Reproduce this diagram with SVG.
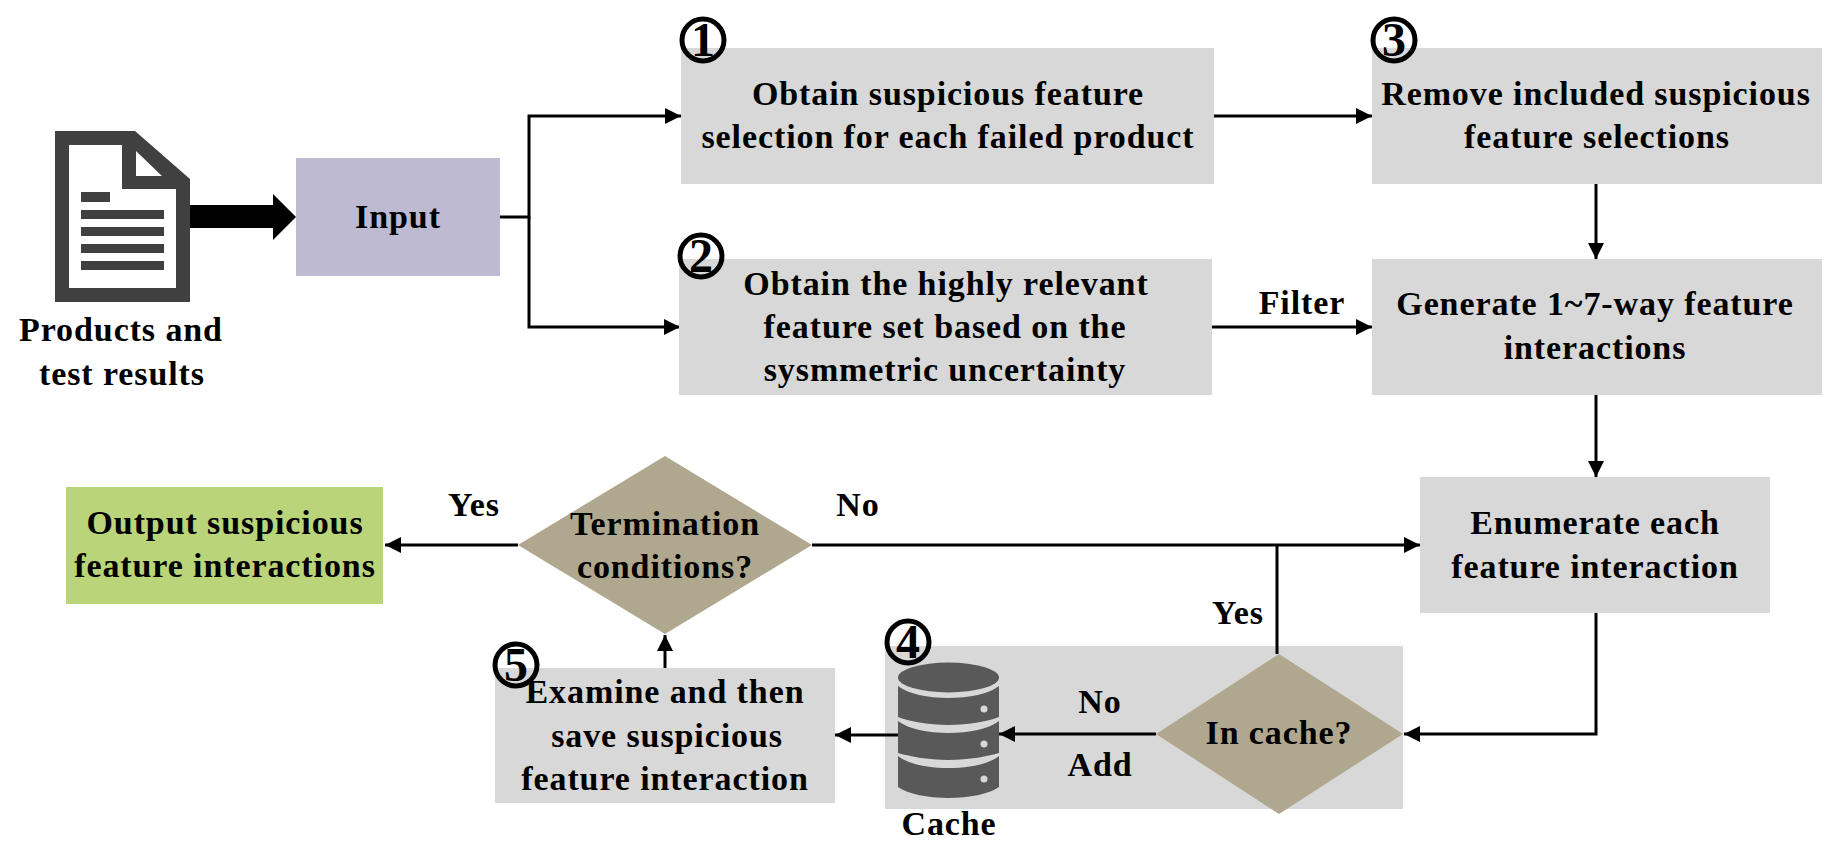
<svg xmlns="http://www.w3.org/2000/svg" width="1838" height="861" viewBox="0 0 1838 861">
<style>
text{font-family:"Liberation Serif","Times New Roman",serif;font-weight:bold;font-size:34px;letter-spacing:.9px;fill:#000;text-anchor:middle}
.b{fill:#d8d8d8}
.d{fill:#afa88f}
.l{fill:none;stroke:#000;stroke-width:3}
.n{fill:none;stroke:#000;stroke-width:5}
.nt{font-size:48px;letter-spacing:0}
.ic{fill:#404040}
.db{fill:#595959}
.dot{fill:#d8d8d8}
</style>
<defs><marker id="a" markerUnits="userSpaceOnUse" markerWidth="17" markerHeight="16" refX="16" refY="8" orient="auto"><path d="M0 0L16 8L0 16Z" fill="#000"/></marker></defs>
<rect width="1838" height="861" fill="#fff"/>
<g id="cache-panel"><rect class="b" x="885" y="646" width="518" height="163"/></g>
<g id="connectors">
<path class="l" d="M500 217H529V116H681" marker-end="url(#a)"/>
<path class="l" d="M529 217V327H680" marker-end="url(#a)"/>
<path class="l" d="M1214 116H1372" marker-end="url(#a)"/>
<path class="l" d="M1212 327H1372" marker-end="url(#a)"/>
<path class="l" d="M1596 184V259" marker-end="url(#a)"/>
<path class="l" d="M1596 395V477" marker-end="url(#a)"/>
<path class="l" d="M1596 613V734H1404" marker-end="url(#a)"/>
<path class="l" d="M1156 734H999" marker-end="url(#a)"/>
<path class="l" d="M899 735H835" marker-end="url(#a)"/>
<path class="l" d="M665 668V635" marker-end="url(#a)"/>
<path class="l" d="M812 545H1420" marker-end="url(#a)"/>
<path class="l" d="M1277 654V546"/>
<path class="l" d="M518 545H385" marker-end="url(#a)"/>
<path d="M189 205H273V194L296 217L273 240V228H189Z" fill="#000"/>
</g>
<g id="products">
<path class="ic" fill-rule="evenodd" d="M55 131H135L190 179V302H55ZM69 145V288H176V189H122V145ZM136 151V176H162Z"/>
<path class="ic" d="M81 192H110V202H81ZM81 210H164V219H81ZM81 227H164V236H81ZM81 244H164V253H81ZM81 261H164V270H81Z"/>
<text x="121" y="341">Products and</text><text x="122" y="385">test results</text>
</g>
<g id="input"><rect x="296" y="158" width="204" height="118" fill="#bdbad2"/><text x="398" y="228">Input</text></g>
<g id="step1"><rect class="b" x="681" y="48" width="533" height="136"/><text x="948" y="105">Obtain suspicious feature</text><text x="948" y="148">selection for each failed product</text></g>
<g id="step3"><rect class="b" x="1372" y="48" width="450" height="136"/><text x="1596" y="105">Remove included suspicious</text><text x="1597" y="148">feature selections</text></g>
<g id="step2"><rect class="b" x="679" y="259" width="533" height="136"/><text x="946" y="295">Obtain the highly relevant</text><text x="945" y="338">feature set based on the</text><text x="945" y="381">sysmmetric uncertainty</text></g>
<g id="generate"><rect class="b" x="1372" y="259" width="450" height="136"/><text x="1595" y="315">Generate 1~7-way feature</text><text x="1595" y="359">interactions</text></g>
<g id="enumerate"><rect class="b" x="1420" y="477" width="350" height="136"/><text x="1595" y="534">Enumerate each</text><text x="1595" y="578">feature interaction</text></g>
<g id="output"><rect x="66" y="487" width="317" height="117" fill="#b9d479"/><text x="225" y="534">Output suspicious</text><text x="225" y="577">feature interactions</text></g>
<g id="termination"><path class="d" d="M665 456L812 545L665 634L518 545Z"/><text x="665" y="535">Termination</text><text x="665" y="578">conditions?</text></g>
<g id="incache"><path class="d" d="M1279 654L1403 734L1279 814L1156 734Z"/><text x="1279" y="744">In cache?</text></g>
<g id="examine"><rect class="b" x="495" y="668" width="340" height="135"/><text x="665" y="703">Examine and then</text><text x="667" y="747">save suspicious</text><text x="665" y="790">feature interaction</text></g>
<g id="cache">
<ellipse class="db" cx="948.500" cy="677.500" rx="50.500" ry="15"/>
<path class="db" d="M898 686C908 694 928 698 948.500 698S989 694 999 686V717C989 721 969 725 948.500 725S908 721 898 717Z"/>
<path class="db" d="M898 721C908 729 928 733 948.500 733S989 729 999 721V753C989 756 969 760 948.500 760S908 756 898 753Z"/>
<path class="db" d="M898 756C908 764 928 768 948.500 768S989 764 999 756V787C989 794 969 798 948.500 798S908 794 898 787Z"/>
<circle class="dot" cx="984" cy="709" r="3.500"/><circle class="dot" cx="984" cy="744" r="3.500"/><circle class="dot" cx="984" cy="779" r="3.500"/>
<text x="949" y="835">Cache</text>
</g>
<g id="labels"><text x="1302" y="314">Filter</text><text x="474" y="516">Yes</text><text x="858" y="516">No</text><text x="1238" y="624">Yes</text><text x="1100" y="713">No</text><text x="1100" y="776">Add</text></g>
<g id="n1"><circle class="n" cx="703" cy="40" r="21"/><text class="nt" x="703" y="56">1</text></g>
<g id="n2"><circle class="n" cx="701" cy="256" r="21"/><text class="nt" x="701" y="272">2</text></g>
<g id="n3"><circle class="n" cx="1394" cy="40" r="21"/><text class="nt" x="1394" y="56">3</text></g>
<g id="n4"><circle class="n" cx="908" cy="642" r="21"/><text class="nt" x="908" y="658">4</text></g>
<g id="n5"><circle class="n" cx="516" cy="665" r="21"/><text class="nt" x="516" y="681">5</text></g>
</svg>
